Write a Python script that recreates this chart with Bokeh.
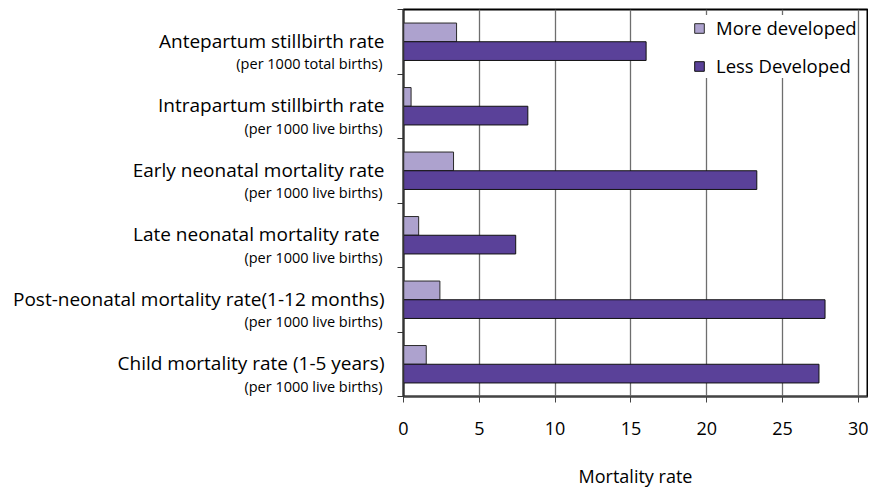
from bokeh.plotting import figure
from bokeh.layouts import row
from bokeh.models import (ColumnDataSource, FactorRange, Range1d, LinearAxis,
                          FixedTicker, Legend, LegendItem, CustomJSTickFormatter)
from bokeh.transform import dodge
from bokeh.core.properties import value
from bokeh.embed import file_html
from bokeh.resources import INLINE

categories = [
    "Antepartum stillbirth rate",
    "Intrapartum stillbirth rate",
    "Early neonatal mortality rate",
    "Late neonatal mortality rate ",
    "Post-neonatal mortality rate(1-12 months)",
    "Child mortality rate (1-5 years)",
]
subtitles = [
    "(per 1000 total births)",
    "(per 1000 live births)",
    "(per 1000 live births)",
    "(per 1000 live births)",
    "(per 1000 live births)",
    "(per 1000 live births)",
]
more_developed = [3.5, 0.5, 3.3, 1.0, 2.4, 1.5]
less_developed = [16.0, 8.2, 23.3, 7.4, 27.8, 27.4]
x_ticks = [0, 5, 10, 15, 20, 25, 30]
series_names = ["More developed", "Less Developed"]
x_title = "Mortality rate"

FONT = "Open Sans"
LIGHT = "#ADA2CE"
DARK = "#5A4199"
H = 490
TOP = 9
BOTTOM = 94
LEFT_W = 389

src = ColumnDataSource(dict(cat=categories, sub=subtitles,
                            more=more_developed, less=less_developed))
y_range = FactorRange(factors=categories[::-1])

# ---- left panel with the two-line category labels ----
lp = figure(width=LEFT_W, height=H, output_backend="svg", toolbar_location=None,
            x_range=Range1d(0, LEFT_W), y_range=y_range,
            x_axis_location=None, y_axis_location=None,
            min_border_left=0, min_border_right=0,
            min_border_top=TOP, min_border_bottom=BOTTOM)
lp.outline_line_color = None
lp.xgrid.grid_line_color = None
lp.ygrid.grid_line_color = None
lp.text(x=384, y="cat", text="cat", source=src, y_offset=-1,
        text_align="right", text_baseline="middle",
        text_font=value(FONT), text_font_size="19px", text_color="black")
lp.text(x=382, y="cat", text="sub", source=src, y_offset=22,
        text_align="right", text_baseline="middle",
        text_font=value(FONT), text_font_size="14.5px", text_color="black")

# ---- main chart ----
p = figure(width=868 - LEFT_W, height=H, output_backend="svg",
           toolbar_location=None,
           x_range=Range1d(0, 30.6), y_range=y_range,
           y_axis_location=None,
           min_border_left=14, min_border_right=1, min_border_top=TOP,
           min_border_bottom=BOTTOM)

p.outline_line_color = "black"
p.outline_line_width = 2
p.background_fill_color = "white"
p.border_fill_color = "white"

r_more = p.hbar(y=dodge("cat", 0.145, range=p.y_range), right="more", left=0,
                height=0.29, source=src, fill_color=LIGHT,
                line_color="#2a2a2a", line_width=1)
r_less = p.hbar(y=dodge("cat", -0.145, range=p.y_range), right="less", left=0,
                height=0.29, source=src, fill_color=DARK,
                line_color="#111111", line_width=1)

xa = p.xaxis[0]
xa.ticker = FixedTicker(ticks=x_ticks)
xa.axis_label = x_title
xa.axis_label_text_font = FONT
xa.axis_label_text_font_style = "normal"
xa.axis_label_text_font_size = "18px"
xa.axis_label_text_color = "black"
xa.axis_label_standoff = 26
xa.major_label_text_font = FONT
xa.major_label_text_font_size = "18px"
xa.major_label_text_color = "black"
xa.major_label_standoff = 19
xa.major_tick_out = 6
xa.major_tick_in = 0
xa.minor_tick_out = 0
xa.minor_tick_in = 0
xa.axis_line_color = "#444444"
xa.axis_line_width = 1.5
xa.major_tick_line_color = "#444444"

# category boundary ticks (synthetic coordinates of the factor range)
ya = LinearAxis(ticker=FixedTicker(ticks=list(range(len(categories) + 1))),
                formatter=CustomJSTickFormatter(code="return ''"),
                major_label_standoff=0,
                major_tick_out=6, major_tick_in=0,
                minor_tick_out=0, minor_tick_in=0,
                axis_line_color="#333333", axis_line_width=1.5,
                major_tick_line_color="#333333")
p.add_layout(ya, "left")

p.xgrid.ticker = FixedTicker(ticks=x_ticks[1:])
p.xgrid.grid_line_color = "#6e6e6e"
p.xgrid.grid_line_width = 1.3
p.ygrid.grid_line_color = None

legend = Legend(items=[LegendItem(label=series_names[0], renderers=[r_more]),
                       LegendItem(label=series_names[1], renderers=[r_less])],
                location=(290, 318), orientation="vertical",
                border_line_color=None, background_fill_color="white",
                background_fill_alpha=1.0,
                label_text_font=FONT, label_text_font_size="18.5px",
                label_text_color="black",
                glyph_width=12, glyph_height=12, label_height=20,
                label_standoff=11, spacing=13, padding=6, margin=0)
p.add_layout(legend)

layout = row(lp, p, spacing=0)
open("out.html", "w").write(file_html(layout, INLINE))
